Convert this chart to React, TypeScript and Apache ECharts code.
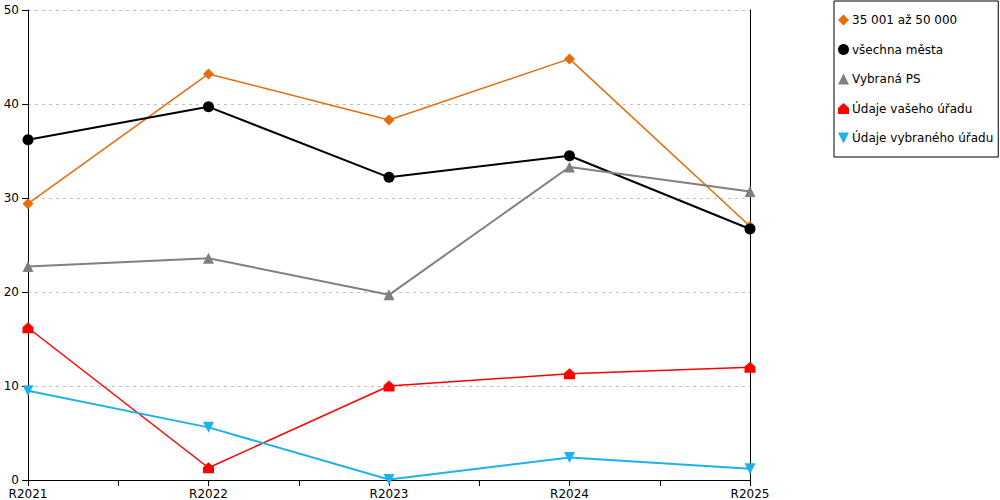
import React, { useEffect, useRef } from "react";
import * as echarts from "echarts";

const categories = ["R2021", "R2022", "R2023", "R2024", "R2025"];
const seriesNames = ["35 001 až 50 000", "všechna města", "Vybraná PS", "Údaje vašeho úřadu", "Údaje vybraného úřadu"];
const orangeValues = [29.4, 43.2, 38.3, 44.8, 27.0];
const blackValues = [36.2, 39.7, 32.2, 34.5, 26.7];
const grayValues = [22.7, 23.6, 19.7, 33.3, 30.7];
const redValues = [16.2, 1.3, 10.0, 11.3, 12.0];
const blueValues = [9.5, 5.6, 0.05, 2.4, 1.2];
const yTicks = [0, 10, 20, 30, 40, 50];

const housePath = "path://M0,10 L0,4.5 L5,0 L10,4.5 L10,10 Z";
const downTriPath = "path://M0,0 L10,0 L5,10 Z";

const styles = [
  { color: "#E46C0A", width: 1.5, symbol: "diamond", size: 11 },
  { color: "#000000", width: 2, symbol: "circle", size: 11 },
  { color: "#808080", width: 2, symbol: "triangle", size: 11 },
  { color: "#FF0000", width: 1.5, symbol: housePath, size: 11 },
  { color: "#1FB1EC", width: 2, symbol: downTriPath, size: 11 },
];

export default function App() {
  const ref = useRef<HTMLDivElement>(null);
  useEffect(() => {
    if (!ref.current) return;
    const chart = echarts.init(ref.current, undefined, { renderer: "svg" });
    const allValues = [orangeValues, blackValues, grayValues, redValues, blueValues];
    const series = allValues.map((vals, i) => ({
      name: seriesNames[i],
      type: "line",
      data: vals.map((v, j) => [j, v]),
      symbol: styles[i].symbol,
      symbolSize: styles[i].size,
      showSymbol: true,
      lineStyle: { color: styles[i].color, width: styles[i].width },
      itemStyle: { color: styles[i].color },
      z: 2 + i,
    }));
    chart.setOption({
      animation: false,
      textStyle: { fontFamily: "DejaVu Sans", fontSize: 12, color: "#000" },
      grid: { left: 28, right: 250, top: 10, bottom: 20, containLabel: false },
      legend: {
        orient: "vertical",
        left: 834,
        top: 1,
        width: 163,
        height: 154,
        padding: [13, 5, 13, 4],
        itemGap: 17.5,
        itemWidth: 11,
        itemHeight: 11,
        borderColor: "#000",
        borderWidth: 1,
        textStyle: { fontFamily: "DejaVu Sans", fontSize: 12, color: "#000", padding: [0, 0, 0, -2] },
        data: seriesNames.map((n, i) => ({
          name: n,
          icon: styles[i].symbol,
          itemStyle: { color: styles[i].color },
        })),
      },
      xAxis: {
        type: "value",
        min: 0,
        max: categories.length - 1,
        interval: 0.5,
        splitLine: { show: false },
        axisLine: { show: true, lineStyle: { color: "#000", width: 1 } },
        axisTick: { show: true, length: 6, lineStyle: { color: "#000" } },
        axisLabel: {
          color: "#000",
          fontFamily: "DejaVu Sans",
          fontSize: 12,
          margin: 8,
          showMinLabel: true,
          showMaxLabel: true,
          formatter: (v: number) => (Number.isInteger(v) ? categories[v] : ""),
        },
      },
      yAxis: [
        {
          type: "value",
          min: yTicks[0],
          max: yTicks[yTicks.length - 1],
          interval: 10,
          axisLine: { show: true, lineStyle: { color: "#000", width: 1 } },
          axisTick: { show: true, length: 6, lineStyle: { color: "#000" } },
          axisLabel: { color: "#000", fontFamily: "DejaVu Sans", fontSize: 12, margin: 9 },
          splitLine: { show: true, lineStyle: { color: "#C0C0C0", type: [3, 4], width: 1 } },
        },
        {
          type: "value",
          position: "right",
          min: yTicks[0],
          max: yTicks[yTicks.length - 1],
          interval: 10,
          axisLine: { show: true, lineStyle: { color: "#000", width: 1 } },
          axisTick: { show: false },
          axisLabel: { show: false },
          splitLine: { show: false },
        },
      ],
      series,
    });
    return () => chart.dispose();
  }, []);
  return (
    <div
      ref={ref}
      style={{ position: "fixed", left: 0, top: 0, width: 1000, height: 500, background: "#fff" }}
    />
  );
}
